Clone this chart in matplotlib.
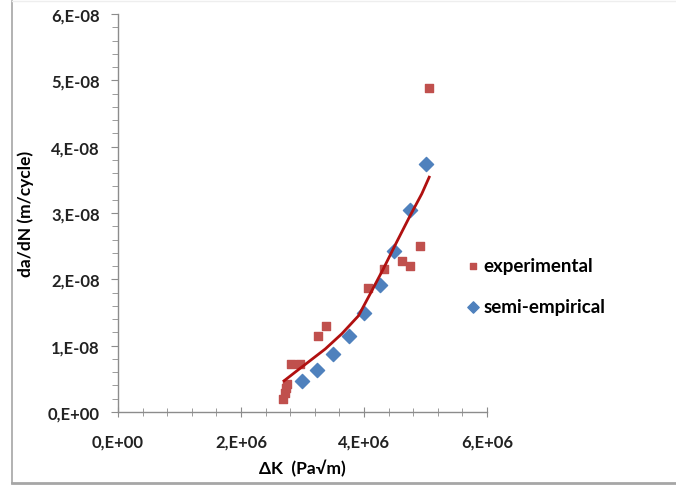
import numpy as np
import matplotlib.pyplot as plt
from matplotlib.lines import Line2D
from matplotlib.ticker import MultipleLocator, FuncFormatter

# experimental points (dK in Pa*sqrt(m), da/dN in m/cycle)
exp_dk = [2.69e6, 2.72e6, 2.73e6, 2.74e6, 2.81e6, 2.96e6, 3.25e6, 3.38e6,
          4.07e6, 4.33e6, 4.62e6, 4.75e6, 4.91e6, 5.05e6]
exp_dadn = [0.20e-8, 0.29e-8, 0.36e-8, 0.42e-8, 0.73e-8, 0.73e-8, 1.15e-8, 1.29e-8,
            1.87e-8, 2.15e-8, 2.27e-8, 2.20e-8, 2.51e-8, 4.88e-8]

# semi-empirical points
semi_dk = [2.99e6, 3.24e6, 3.50e6, 3.75e6, 4.00e6, 4.26e6, 4.49e6, 4.74e6, 5.00e6]
semi_dadn = [0.46e-8, 0.63e-8, 0.87e-8, 1.15e-8, 1.49e-8, 1.92e-8, 2.43e-8, 3.05e-8, 3.74e-8]

# trend curve
trend_dk = [2.70e6, 2.88e6, 3.09e6, 3.37e6, 3.64e6, 3.91e6, 4.10e6, 4.31e6,
            4.53e6, 4.75e6, 4.94e6, 5.06e6]
trend_dadn = [0.47e-8, 0.60e-8, 0.75e-8, 0.95e-8, 1.18e-8, 1.45e-8, 1.78e-8, 2.15e-8,
              2.56e-8, 2.96e-8, 3.29e-8, 3.54e-8]

plt.rcParams['font.family'] = ['Lato', 'DejaVu Sans']

fig = plt.figure(figsize=(6.76, 4.89), dpi=100)
ax = fig.add_axes([118 / 676, 1 - 413 / 489, (487 - 118) / 676, (413 - 15) / 489])

# chart area border (left, top, bottom)
border = '#A6A6A6'
fig.add_artist(Line2D([12 / 676, 12 / 676], [1 - 484 / 489, 1 - 2 / 489], color=border, lw=1.2,
                      transform=fig.transFigure))
fig.add_artist(Line2D([12 / 676, 1], [1 - 484 / 489, 1 - 484 / 489], color=border, lw=2,
                      transform=fig.transFigure))
fig.add_artist(Line2D([12 / 676, 1], [1 - 2 / 489, 1 - 2 / 489], color='#EEEEEE', lw=1,
                      transform=fig.transFigure))

red = '#C0504D'
blue = '#4F81BD'

ax.scatter(exp_dk, exp_dadn, marker='s', s=36, color=red, zorder=3, label='experimental')
ax.scatter(semi_dk, semi_dadn, marker='D', s=52, color=blue, zorder=3, label='semi-empirical')
ax.plot(trend_dk, trend_dadn, color='#B01010', lw=2, zorder=4)

ax.set_xlim(0, 6e6)
ax.set_ylim(0, 6e-8)
ax.xaxis.set_major_locator(MultipleLocator(2e6))
ax.xaxis.set_minor_locator(MultipleLocator(4e5))
ax.yaxis.set_major_locator(MultipleLocator(1e-8))
ax.yaxis.set_minor_locator(MultipleLocator(2e-9))


def sci_comma(v, pos):
    if v == 0:
        return '0,E+00'
    exp = int(np.floor(np.log10(abs(v)) + 1e-9))
    mant = int(round(v / 10 ** exp))
    sign = '+' if exp >= 0 else '-'
    return f'{mant},E{sign}{abs(exp):02d}'


ax.xaxis.set_major_formatter(FuncFormatter(sci_comma))
ax.yaxis.set_major_formatter(FuncFormatter(sci_comma))

for s in ['top', 'right']:
    ax.spines[s].set_visible(False)
for s in ['left', 'bottom']:
    ax.spines[s].set_color('#8C8C8C')
    ax.spines[s].set_linewidth(1)

ax.tick_params(axis='both', which='both', colors='#8C8C8C', labelcolor='#222222')
ax.tick_params(axis='y', which='major', direction='out', length=5, pad=8, labelsize=12)
ax.tick_params(axis='y', which='minor', direction='out', length=4)
ax.tick_params(axis='x', which='major', direction='inout', length=7, pad=12, labelsize=12)
ax.tick_params(axis='x', which='minor', direction='inout', length=6)
for lab in ax.get_xticklabels() + ax.get_yticklabels():
    lab.set_fontweight('bold')

ax.set_xlabel('ΔK  (Pa√m)', fontsize=12.5, fontweight='bold', labelpad=7)
ax.set_ylabel('da/dN (m/cycle)', fontsize=12.5, fontweight='bold', labelpad=10)

fig.legend(loc='center left', bbox_to_anchor=(446 / 676, 1 - 287 / 489), frameon=False,
           prop={'weight': 'bold', 'size': 13.5}, labelspacing=1.25, handletextpad=0.0,
           handlelength=1.1, markerscale=0.8)

fig.savefig('out.png', dpi=100, facecolor='white')
